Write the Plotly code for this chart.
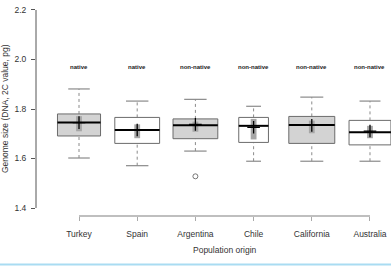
import plotly.graph_objects as go

# ---- data ----
populations = ["Turkey", "Spain", "Argentina", "Chile", "California", "Australia"]
status = ["native", "native", "non-native", "non-native", "non-native", "non-native"]
lower_whisker = [1.602, 1.571, 1.630, 1.589, 1.589, 1.589]
q1 = [1.691, 1.661, 1.680, 1.665, 1.661, 1.655]
median = [1.745, 1.715, 1.734, 1.732, 1.735, 1.706]
q3 = [1.780, 1.766, 1.760, 1.766, 1.770, 1.754]
upper_whisker = [1.881, 1.832, 1.839, 1.811, 1.848, 1.832]
mean = [1.745, 1.715, 1.738, 1.726, 1.734, 1.711]
ci_low = [1.710, 1.682, 1.708, 1.677, 1.702, 1.682]
ci_high = [1.771, 1.738, 1.749, 1.760, 1.753, 1.732]
box_width = [0.74, 0.77, 0.77, 0.51, 0.79, 0.72]
shaded = [True, False, True, False, True, False]
outlier_x = ["Argentina"]
outlier_y = [1.528]
y_ticks = [1.4, 1.6, 1.8, 2.0, 2.2]
label_y = 1.97

BOX_LINE = "#6b6b6b"
BOX_FILL = "#d3d3d3"
CI_FILL = "#a6a6a6"
WHISK = "#8a8a8a"

fig = go.Figure()
shapes = []
pos = list(range(1, len(populations) + 1))

for i, p in enumerate(pos):
    w = box_width[i]
    # whiskers (dashed)
    shapes.append(dict(type="line", xref="x", yref="y", x0=p, x1=p, y0=q3[i], y1=upper_whisker[i],
                       line=dict(color=WHISK, width=1, dash="dot"), layer="below"))
    shapes.append(dict(type="line", xref="x", yref="y", x0=p, x1=p, y0=lower_whisker[i], y1=q1[i],
                       line=dict(color=WHISK, width=1, dash="dot"), layer="below"))
    # caps
    for yv in (upper_whisker[i], lower_whisker[i]):
        shapes.append(dict(type="line", xref="x", yref="y", x0=p - w / 4, x1=p + w / 4, y0=yv, y1=yv,
                           line=dict(color=WHISK, width=1.2), layer="below"))
    # box
    shapes.append(dict(type="rect", xref="x", yref="y", x0=p - w / 2, x1=p + w / 2, y0=q1[i], y1=q3[i],
                       fillcolor=BOX_FILL if shaded[i] else "white",
                       line=dict(color=BOX_LINE, width=1), layer="below"))
    # CI rectangle
    shapes.append(dict(type="rect", xref="x", yref="y", x0=p - 0.05, x1=p + 0.05, y0=ci_low[i], y1=ci_high[i],
                       fillcolor=CI_FILL, line=dict(width=0), layer="below"))
    # median
    shapes.append(dict(type="line", xref="x", yref="y", x0=p - w / 2, x1=p + w / 2, y0=median[i], y1=median[i],
                       line=dict(color="black", width=2), layer="below"))

# mean markers
fig.add_trace(go.Scatter(x=pos, y=mean, mode="markers",
                         marker=dict(symbol="cross-thin", size=9, color="black", line=dict(color="black", width=1.3)),
                         hoverinfo="skip", showlegend=False))
# outliers
fig.add_trace(go.Scatter(x=[populations.index(o) + 1 for o in outlier_x], y=outlier_y, mode="markers",
                         marker=dict(symbol="circle-open", size=5, color="#555555", line=dict(width=0.8)),
                         hoverinfo="skip", showlegend=False))

# status labels
annotations = []
for i, p in enumerate(pos):
    annotations.append(dict(x=p, y=label_y, xref="x", yref="y", text="<b>" + status[i] + "</b>",
                            showarrow=False, font=dict(size=6, color="#222222", family="Liberation Sans")))

# axis titles
annotations.append(dict(x=3.5, xref="x", y=-0.158, yref="paper", text="Population origin", showarrow=False,
                        font=dict(size=8.5, color="#333333", family="Liberation Sans"), yanchor="middle"))
annotations.append(dict(x=0, xref="paper", xshift=-31, y=1.8, yref="y", text="Genome size (DNA, 2C value, pg)",
                        textangle=-90, showarrow=False, xanchor="center", yanchor="middle",
                        font=dict(size=8.5, color="#333333", family="Liberation Sans")))

# axis lines R-style
shapes.append(dict(type="line", xref="paper", yref="y", x0=0, x1=0, y0=y_ticks[0], y1=y_ticks[-1],
                   line=dict(color="#555555", width=1)))
shapes.append(dict(type="line", xref="x", yref="paper", x0=pos[0], x1=pos[-1], y0=0, y1=0,
                   line=dict(color="#aaaaaa", width=1.5)))
# bottom light blue strip
shapes.append(dict(type="line", xref="paper", yref="paper", x0=-0.2, x1=1.1, y0=-0.2266, y1=-0.2266,
                   line=dict(color="#a9dcf2", width=2)))

fig.update_layout(
    width=391, height=266,
    margin=dict(l=36, r=0, t=2, b=50),
    plot_bgcolor="white", paper_bgcolor="white",
    shapes=shapes, annotations=annotations,
    font=dict(family="Liberation Sans", size=8.5, color="#333333"),
    xaxis=dict(range=[0.261, 6.361], tickvals=pos, ticktext=populations, showgrid=False, zeroline=False,
               showline=False, ticks="outside", ticklen=4, tickcolor="#aaaaaa", tickwidth=1,
               ticklabelstandoff=6,
               tickfont=dict(size=8.5, color="#333333")),
    yaxis=dict(range=[1.3677, 2.2323], tickvals=y_ticks, ticktext=[f"{v:.1f}" for v in y_ticks],
               showgrid=False, zeroline=False, showline=False, ticks="outside", ticklen=4,
               ticklabelstandoff=3,
               tickcolor="#555555", tickwidth=1, tickfont=dict(size=8.5, color="#333333")),
)

fig.write_html("out.html")
